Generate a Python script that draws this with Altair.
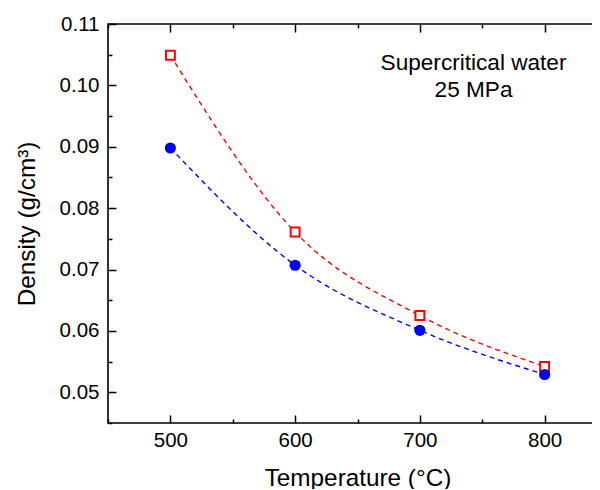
import altair as alt
import pandas as pd

# ---- data ----
temps = [500, 600, 700, 800]
red_density = [0.1049, 0.0761, 0.0625, 0.0542]
blue_density = [0.0898, 0.0707, 0.0601, 0.0529]

x_major = [500, 600, 700, 800]
x_minor = [450, 550, 650, 750, 850]
y_major = [0.05, 0.06, 0.07, 0.08, 0.09, 0.10, 0.11]
y_minor = [0.045, 0.055, 0.065, 0.075, 0.085, 0.095, 0.105]

note_text = ["Supercritical water\n25 MPa"]
note_x = [743]
note_y = [0.1025]

FONT = "Liberation Sans"
W, H = 499, 399

red_df = pd.DataFrame({"T": temps, "D": red_density})
blue_df = pd.DataFrame({"T": temps, "D": blue_density})
note_df = pd.DataFrame({"T": note_x, "D": note_y, "label": note_text})

xs = alt.Scale(domain=[450, 850], nice=False, zero=False)
ys = alt.Scale(domain=[0.045, 0.11], nice=False, zero=False)

x_lab_axis = alt.Axis(
    orient="bottom", values=x_major, ticks=False, domain=False, grid=False,
    labelFont=FONT, labelFontSize=20.5, labelColor="black", labelPadding=7,
    labelFlush=False, labelOverlap=False,
    title="Temperature (°C)", titleFont=FONT, titleFontSize=24.3,
    titleFontWeight="normal", titleColor="black",
    titleX=W / 2, titleY=62, titleBaseline="alphabetic", titleAlign="center",
)
y_lab_axis = alt.Axis(
    orient="left", values=y_major, format=".2f", ticks=False, domain=False,
    grid=False, labelFont=FONT, labelFontSize=20.5, labelColor="black",
    labelPadding=9, labelFlush=False, labelOverlap=False,
    title="Density (g/cm³)", titleFont=FONT, titleFontSize=24.3,
    titleFontWeight="normal", titleColor="black",
    titleX=-74, titleY=H / 2, titleAngle=-90, titleBaseline="alphabetic",
    titleAlign="center",
)


def tick_axis(orient, values, size):
    return alt.Axis(
        orient=orient, values=values, labels=False, domain=False, grid=False,
        title=None, ticks=True, tickSize=size, tickWidth=1.5,
        tickColor="black", offset=-size,
    )


def enc(chart, xaxis, yaxis):
    return chart.encode(
        x=alt.X("T:Q", scale=xs, axis=xaxis),
        y=alt.Y("D:Q", scale=ys, axis=yaxis),
    )


red_line = enc(
    alt.Chart(red_df).mark_line(color="red", strokeDash=[5, 4], strokeWidth=1.4,
                                interpolate="monotone"),
    x_lab_axis, y_lab_axis,
)
blue_line = enc(
    alt.Chart(blue_df).mark_line(color="blue", strokeDash=[5, 4], strokeWidth=1.4,
                                 interpolate="monotone"),
    None, None,
)
red_pts = enc(
    alt.Chart(red_df).mark_square(fill="white", stroke="red", strokeWidth=2,
                                  size=80, opacity=1),
    None, None,
)
blue_pts = enc(
    alt.Chart(blue_df).mark_circle(color="blue", size=125, opacity=1),
    None, None,
)
note = enc(
    alt.Chart(note_df).mark_text(font=FONT, fontSize=22.6, color="black",
                                 align="center", baseline="alphabetic",
                                 lineBreak="\n", lineHeight=27),
    None, None,
).encode(text="label:N")

ghost = alt.Chart(red_df).mark_point(opacity=0)
t1 = enc(ghost, tick_axis("bottom", x_major, 8), tick_axis("left", y_major, 8))
t2 = enc(ghost, tick_axis("top", x_major, 8), tick_axis("right", y_major, 8))
t3 = enc(ghost, tick_axis("bottom", x_minor, 4), tick_axis("left", y_minor, 4))
t4 = enc(ghost, tick_axis("top", x_minor, 4), tick_axis("right", y_minor, 4))

chart = (
    alt.layer(red_line, blue_line, red_pts, blue_pts, note, t1, t2, t3, t4)
    .resolve_axis(x="independent", y="independent")
    .properties(
        width=W, height=H,
        autosize=alt.AutoSizeParams(type="none"),
        padding={"left": 100, "top": 16, "right": -15, "bottom": 66},
        background="white",
    )
    .configure_view(stroke="black", strokeWidth=1.6)
)

chart.save("out.html", embed_options={"renderer": "svg", "actions": False})
